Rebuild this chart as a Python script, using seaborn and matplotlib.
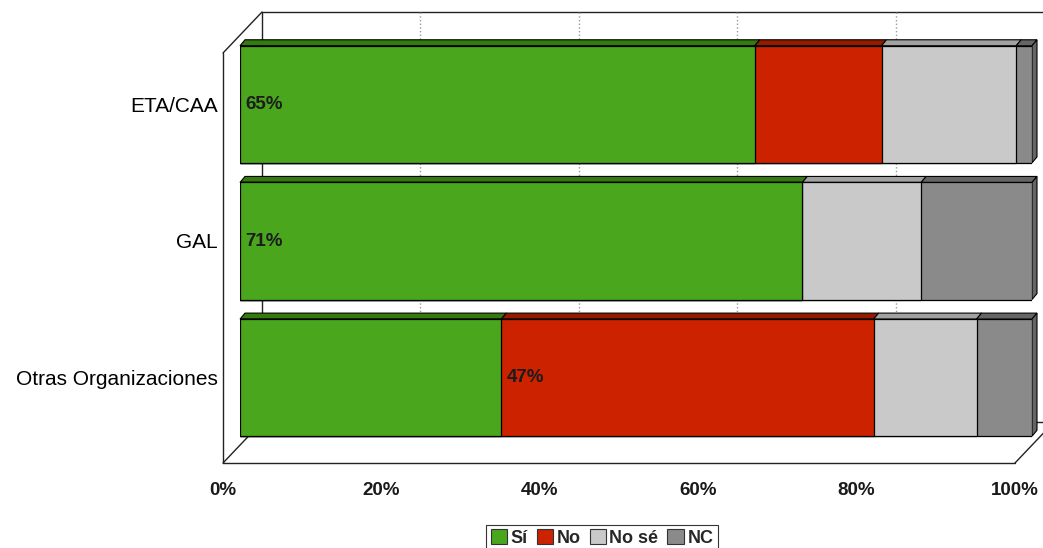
import pandas as pd
import matplotlib
matplotlib.use('Agg')
import matplotlib.pyplot as plt
import seaborn as sns
from matplotlib.patches import Polygon, Patch
from matplotlib.lines import Line2D
from matplotlib.transforms import IdentityTransform, ScaledTranslation

# datos (%)
categorias = ['ETA/CAA', 'GAL', 'Otras Organizaciones']
si = [65, 71, 33]
no = [16, 0, 47]
no_se = [17, 15, 13]
nc = [2, 14, 7]
series = ['Sí', 'No', 'No sé', 'NC']
ticks_x = [0, 20, 40, 60, 80, 100]
etiquetas_x = ['0%', '20%', '40%', '60%', '80%', '100%']

colores = ['#4aa61c', '#cc2200', '#c9c9c9', '#8a8a8a']
colores_tapa = ['#337a0f', '#941a00', '#a2a2a2', '#656565']

sns.set_style('white')
plt.rcParams['font.family'] = ['Liberation Sans', 'DejaVu Sans']

df = pd.DataFrame({'cat': categorias, 'Sí': si, 'No': no, 'No sé': no_se, 'NC': nc})
acum = df[series].cumsum(axis=1)
acum['cat'] = categorias

W, H = 1043, 548
fig = plt.figure(figsize=(W / 100, H / 100), dpi=100)
ax = fig.add_axes([240 / W, (H - 446) / H, (1032 - 240) / W, (446 - 36) / H])

alto = 0.857
# barras apiladas: se dibujan los acumulados de mayor a menor
for i in range(len(series) - 1, -1, -1):
    sns.barplot(data=acum, x=series[i], y='cat', orient='h', color=colores[i],
                saturation=1, width=alto, edgecolor='black', linewidth=0.9,
                errorbar=None, ax=ax, zorder=3)

ax.set_xlim(0, 100)
ax.set_ylim(2.5, -0.5)
ax.set_xlabel('')
ax.set_ylabel('')
ax.patch.set_visible(False)
for s in ax.spines.values():
    s.set_visible(False)
ax.set_xticks(ticks_x)
ax.set_xticklabels(etiquetas_x, fontweight='bold', fontsize=13.5, color='#1a1a1a')
ax.tick_params(axis='x', length=0, pad=26)
ax.tick_params(axis='y', length=0, pad=16, labelsize=15, labelcolor='black')
for lab in ax.get_xticklabels():
    lab.set_transform(lab.get_transform() + ScaledTranslation(-17 / 100, 0, fig.dpi_scale_trans))


def punto(xv, yv, dx=0, dy=0):
    px, py = ax.transData.transform((xv, yv))
    return px + dx, py + dy


delante = (-17, -17)
detras = (22, 24)


def linea(p1, p2, **kw):
    opts = dict(color='#222222', lw=1.0)
    opts.update(kw)
    ax.add_line(Line2D([p1[0], p2[0]], [p1[1], p2[1]], transform=IdentityTransform(),
                       clip_on=False, zorder=1, **opts))


suelo, techo = 2.5, -0.5
# pared del fondo
linea(punto(0, techo, *detras), punto(100, techo, *detras))
linea(punto(0, suelo, *detras), punto(0, techo, *detras))
linea(punto(100, suelo, *detras), punto(100, techo, *detras))
for t in ticks_x[1:-1]:
    linea(punto(t, suelo, *detras), punto(t, techo, *detras), color='#9a9a9a', ls=':', lw=1)
# pared izquierda
linea(punto(0, suelo, *delante), punto(0, techo, *delante))
linea(punto(0, techo, *delante), punto(0, techo, *detras))
linea(punto(0, suelo, *delante), punto(0, suelo, *detras))
# suelo
linea(punto(0, suelo, *delante), punto(100, suelo, *delante))
linea(punto(100, suelo, *delante), punto(100, suelo, *detras))
linea(punto(0, suelo, *detras), punto(100, suelo, *detras))

# caras superiores y laterales de las barras
bdx, bdy = 5, 6
for r in range(len(categorias)):
    yt = r - alto / 2
    yb = r + alto / 2
    ultimo = max(i for i in range(len(series)) if df.loc[r, series[i]] > 0)
    for i, s in enumerate(series):
        v = df.loc[r, s]
        if v <= 0:
            continue
        der = acum.loc[r, s]
        izq = der - v
        a = punto(izq, yt)
        b = punto(der, yt)
        tapa = [a, b, (b[0] + bdx, b[1] + bdy), (a[0] + bdx, a[1] + bdy)]
        ax.add_patch(Polygon(tapa, closed=True, transform=IdentityTransform(), clip_on=False,
                             facecolor=colores_tapa[i], edgecolor='black', lw=0.8, zorder=2.5))
        if i == ultimo:
            c = punto(der, yb)
            lado = [c, b, (b[0] + bdx, b[1] + bdy), (c[0] + bdx, c[1] + bdy)]
            ax.add_patch(Polygon(lado, closed=True, transform=IdentityTransform(), clip_on=False,
                                 facecolor=colores_tapa[i], edgecolor='black', lw=0.8, zorder=2.5))
    # etiqueta del segmento mayor
    imax = max(range(len(series)), key=lambda k: df.loc[r, series[k]])
    vmax = df.loc[r, series[imax]]
    x0 = acum.loc[r, series[imax]] - vmax
    ax.text(x0 + 0.7, r, f'{vmax}%', ha='left', va='center', fontweight='bold',
            fontsize=13.5, color='#1c1c1c', zorder=5)

handles = [Patch(facecolor=colores[i], edgecolor='#333333', lw=0.8) for i in range(len(series))]
leg = fig.legend(handles, series, loc='center', bbox_to_anchor=(602 / W, (H - 538) / H), ncol=4,
                 frameon=True, fancybox=False, edgecolor='black', prop={'weight': 'bold', 'size': 13},
                 handlelength=0.9, handleheight=0.9, handletextpad=0.2, columnspacing=0.5,
                 borderpad=0.25, borderaxespad=0)
leg.get_frame().set_linewidth(0.8)

fig.savefig('out.png', dpi=100)
